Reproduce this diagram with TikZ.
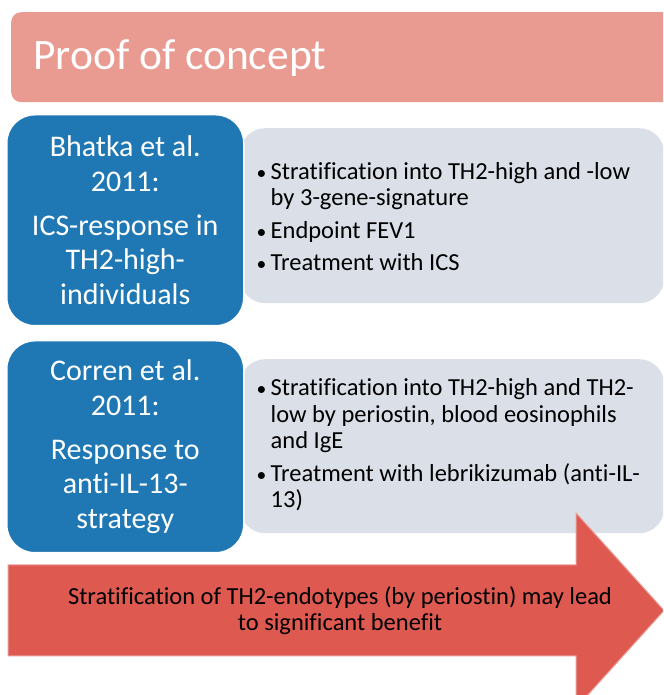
\documentclass[tikz,border=0pt]{standalone}
\usepackage{graphicx}
\usepackage{fontspec}
\setmainfont[Ligatures=NoCommon]{Carlito}
\definecolor{pinkc}{HTML}{E99A91}
\definecolor{bluec}{HTML}{1F78B4}
\definecolor{grayc}{HTML}{DADFE8}
\definecolor{redc}{HTML}{DE5A51}
\newcommand{\bul}{\makebox[15.5pt][l]{\hspace{1.5pt}\scalebox{0.8}{•}}}
\newcommand{\ind}{\makebox[15.5pt]{}}
\begin{document}
\begin{tikzpicture}[x=1pt,y=1pt,
  bluebox/.style={fill=bluec, draw=white, line width=1.5pt, rounded corners=28pt,
    minimum width=237pt, minimum height=211pt, text=white, align=center, inner sep=0pt,
    font=\fontsize{30pt}{34.5pt}\selectfont},
  graybox/.style={fill=grayc, draw=none, rounded corners=25pt, inner sep=0pt},
  listtext/.style={anchor=west, align=left, inner sep=0pt, text=black,
    font=\fontsize{24.5pt}{26.5pt}\selectfont}]
\useasboundingbox (0,0) rectangle (663,695);
\clip (0,0) rectangle (663,695);
% title bar
\node[fill=pinkc, rounded corners=10pt, inner sep=0pt, anchor=north west,
  minimum width=680pt, minimum height=90pt] (titlebox) at (11,683) {};
\node[anchor=base west, text=white, inner sep=0pt,
  font=\fontsize{43.5pt}{50pt}\selectfont] (titletext) at (33,625) {Proof of concept};
% gray panels
\node[graybox, anchor=north west, minimum width=424pt, minimum height=175pt] (g1) at (240,567) {};
\node[graybox, anchor=north west, minimum width=424pt, minimum height=174pt] (g2) at (240,336) {};
% blue boxes
\node[bluebox, anchor=north west] (b1) at (6,581)
  {Bhatka et al.\\2011:\\[9.5pt]ICS-response in\\TH2-high-\\individuals};
\node[bluebox, anchor=north west, minimum height=212pt] (b2) at (6,355)
  {Corren et al.\\2011:\\[9.5pt]Response to\\anti-IL-13-\\strategy};
% lists
\node[listtext] (l1) at (255,478.5)
  {\bul Stratification into TH2-high and -low\\\ind by 3-gene-signature\\[6pt]
   \bul Endpoint FEV1\\[6pt]\bul Treatment with ICS};
\node[listtext] (l2) at (255,250)
  {\bul Stratification into TH2-high and TH2-\\\ind low by periostin, blood eosinophils\\\ind and IgE\\[6pt]
   \bul Treatment with lebrikizumab (anti-IL-\\\ind 13)};
% arrow
\draw[fill=redc, draw=redc!60!white, line width=1pt]
  (8,130) -- (576,130) -- (576,182) -- (664,84.5) -- (576,-13) -- (576,39) -- (8,39) -- cycle;
\node[align=center, inner sep=0pt, font=\fontsize{24.5pt}{26pt}\selectfont] (conclusion) at (340,84.5)
  {Stratification of TH2-endotypes (by periostin) may lead\\to significant benefit};
\end{tikzpicture}
\end{document}
